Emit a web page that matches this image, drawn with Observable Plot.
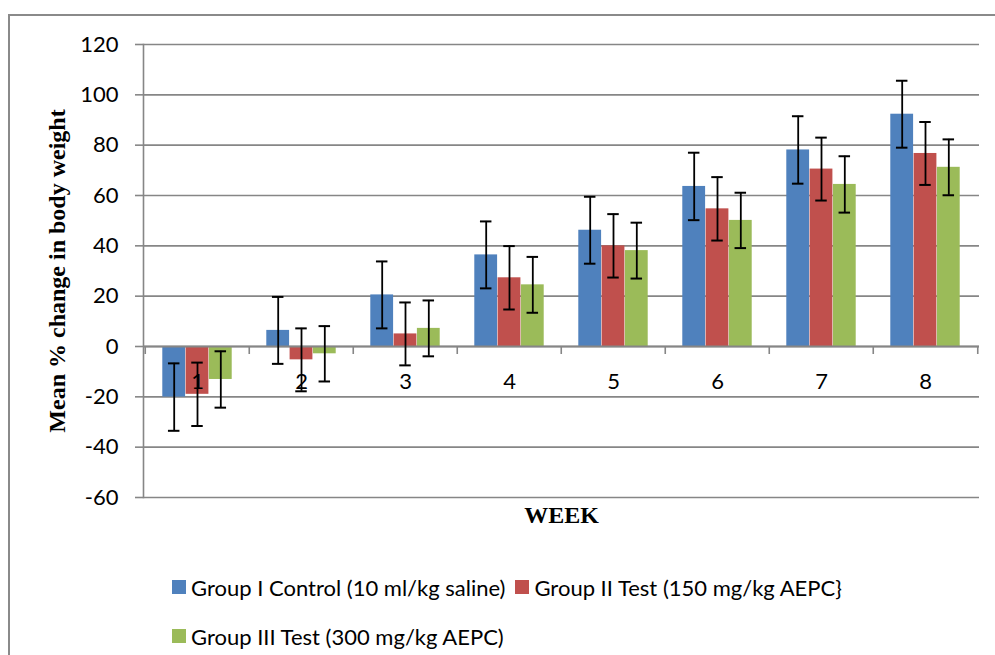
<!DOCTYPE html>
<html>
<head>
<meta charset="utf-8">
<script src="https://cdn.jsdelivr.net/npm/d3@7"></script>
<script src="https://cdn.jsdelivr.net/npm/@observablehq/plot@0.6"></script>
<style>
  html, body { margin: 0; padding: 0; background: #fff; }
  #wrap { position: relative; width: 995px; height: 655px; overflow: hidden; background: #fff; }
  #border { position: absolute; left: 8px; top: 14px; width: 1200px; height: 1200px;
            border-left: 2px solid #8a8a8a; border-top: 2px solid #8a8a8a; }
  #chart { position: absolute; left: 0; top: 0; }
  #legend { position: absolute; left: 172px; top: 578px; font-family: Lato, "Open Sans", sans-serif;
            font-size: 22px; color: #000; }
  .row { display: flex; align-items: center; height: 18px; }
  .row + .row { margin-top: 31px; }
  .item { display: flex; align-items: center; margin-right: 10px; white-space: nowrap; }
  .sw { width: 14px; height: 14px; margin-right: 5px; display: inline-block; }
</style>
</head>
<body>
<div id="wrap">
  <div id="border"></div>
  <div id="chart"></div>
  <div id="legend"></div>
</div>
<script>
// ---- data ----
const weeks = [1, 2, 3, 4, 5, 6, 7, 8];
const groupNames = [
  "Group I Control (10 ml/kg saline)",
  "Group II Test (150 mg/kg AEPC}",
  "Group III Test (300 mg/kg AEPC)"
];
const groupColors = ["#4F81BD", "#C0504D", "#9BBB59"];
const meanI   = [-20.1, 6.4, 20.5, 36.4, 46.2, 63.6, 78.1, 92.3];
const errI    = [13.4, 13.3, 13.3, 13.3, 13.3, 13.4, 13.4, 13.3];
const meanII  = [-19.0, -5.3, 5.0, 27.3, 40.0, 54.7, 70.5, 76.7];
const errII   = [12.6, 12.5, 12.5, 12.6, 12.6, 12.6, 12.5, 12.5];
const meanIII = [-13.1, -2.9, 7.2, 24.5, 38.1, 50.1, 64.4, 71.2];
const errIII  = [11.2, 11.0, 11.1, 11.1, 11.1, 11.0, 11.2, 11.1];
const yTicks = [-60, -40, -20, 0, 20, 40, 60, 80, 100, 120];
const yTitle = "Mean % change in body weight";
const xTitle = "WEEK";

const means = [meanI, meanII, meanIII];
const errs = [errI, errII, errIII];
const rows = [];
groupNames.forEach((g, gi) => weeks.forEach((w, wi) => rows.push({
  week: w, group: g, gi, mean: means[gi][wi], lo: means[gi][wi] - errs[gi][wi], hi: means[gi][wi] + errs[gi][wi]
})));

// ---- layout ----
const W = 995, H = 560, ML = 143, MR = 16, MT = 44, MB = 63;
const band = (W - ML - MR) / weeks.length;
const barW = band * 0.223;
const capW = 12;
const grid = "#868686";

const groupMarks = [];
groupNames.forEach((g, gi) => {
  const d = rows.filter(r => r.gi === gi);
  groupMarks.push(Plot.barY(d, {
    x: "week", y: "mean", fill: groupColors[gi],
    insetLeft: (band - barW) / 2, insetRight: (band - barW) / 2, dx: (gi - 1) * barW
  }));
});
const errMarks = [];
groupNames.forEach((g, gi) => {
  const d = rows.filter(r => r.gi === gi);
  const off = (gi - 1) * barW;
  errMarks.push(Plot.ruleX(d, {x: "week", y1: "lo", y2: "hi", dx: off, stroke: "#000", strokeWidth: 1.8}));
  errMarks.push(Plot.tickY(d, {x: "week", y: "lo", dx: off, stroke: "#000", strokeWidth: 2,
    insetLeft: (band - capW) / 2, insetRight: (band - capW) / 2}));
  errMarks.push(Plot.tickY(d, {x: "week", y: "hi", dx: off, stroke: "#000", strokeWidth: 2,
    insetLeft: (band - capW) / 2, insetRight: (band - capW) / 2}));
});

const plot = Plot.plot({
  width: W, height: H,
  marginLeft: ML, marginRight: MR, marginTop: MT, marginBottom: MB,
  style: {fontFamily: "Lato, 'Open Sans', sans-serif", color: "#000", background: "transparent", overflow: "visible"},
  x: {type: "band", domain: weeks, padding: 0, axis: null},
  y: {domain: [-60, 120], axis: null},
  marks: [
    Plot.gridY(yTicks, {stroke: grid, strokeOpacity: 1, strokeWidth: 1.6}),
    Plot.axisY(yTicks, {tickSize: 8, tickPadding: 17, fontSize: 22, stroke: grid, strokeWidth: 1.6,
      label: null, fill: "#000", tickFormat: d => String(d)}),
    Plot.frame({anchor: "left", stroke: grid, strokeWidth: 1.6}),
    ...groupMarks,
    Plot.ruleY([0], {stroke: grid, strokeWidth: 1.8}),
    Plot.ruleX(weeks, {x: d => d, y1: () => 0, y2: () => 0, insetBottom: -8, dx: -band / 2, stroke: grid, strokeWidth: 1.6}),
    Plot.ruleX(weeks.slice(-1), {x: d => d, y1: () => 0, y2: () => 0, insetBottom: -8, dx: band / 2, stroke: grid, strokeWidth: 1.6}),
    Plot.text(weeks, {x: d => d, y: () => 0, text: d => String(d), dy: 35, fontSize: 22, fill: "#000"}),
    ...errMarks,
    Plot.text([xTitle], {frameAnchor: "bottom", dy: 18, lineAnchor: "middle", textAnchor: "middle", text: d => d,
      fontFamily: "'Liberation Serif', 'Times New Roman', serif", fontWeight: "bold", fontSize: 24, fill: "#000"}),
    Plot.text([yTitle], {frameAnchor: "left", dx: -86, rotate: -90, lineAnchor: "middle", textAnchor: "middle", text: d => d,
      fontFamily: "'Liberation Serif', 'Times New Roman', serif", fontWeight: "bold", fontSize: 24, fill: "#000"})
  ]
});
document.getElementById("chart").appendChild(plot);

// ---- legend ----
const legend = document.getElementById("legend");
const layoutRows = [[0, 1], [2]];
layoutRows.forEach(r => {
  const row = document.createElement("div");
  row.className = "row";
  r.forEach(gi => {
    const it = document.createElement("div");
    it.className = "item";
    const sw = document.createElement("span");
    sw.className = "sw";
    sw.style.background = groupColors[gi];
    const tx = document.createElement("span");
    tx.textContent = groupNames[gi];
    it.appendChild(sw); it.appendChild(tx);
    row.appendChild(it);
  });
  legend.appendChild(row);
});
</script>
</body>
</html>
